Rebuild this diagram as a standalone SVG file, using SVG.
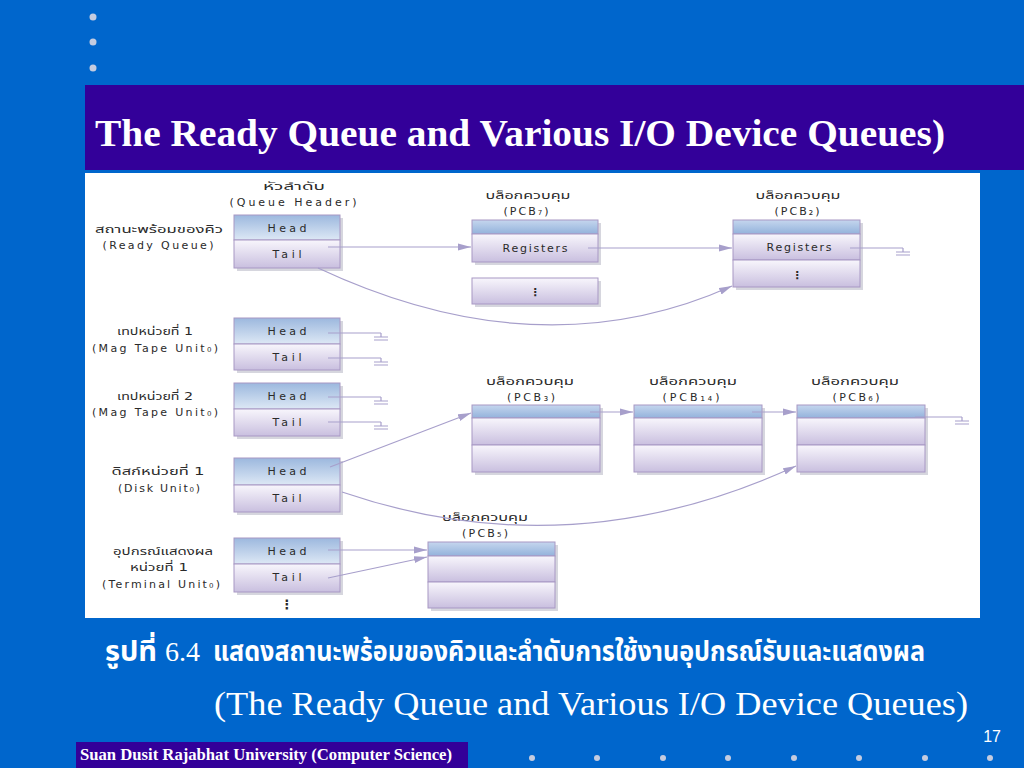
<svg xmlns="http://www.w3.org/2000/svg" width="1024" height="768" viewBox="0 0 1024 768">
<defs>
<linearGradient id="gHead" x1="0" y1="0" x2="0" y2="1"><stop offset="0" stop-color="#9CB8DE"/><stop offset="1" stop-color="#DDE8F5"/></linearGradient>
<linearGradient id="gRow" x1="0" y1="0" x2="0" y2="1"><stop offset="0" stop-color="#F8F6FC"/><stop offset="1" stop-color="#C9BFDF"/></linearGradient>
<linearGradient id="gTop" x1="0" y1="0" x2="0" y2="1"><stop offset="0" stop-color="#C5D6EE"/><stop offset="1" stop-color="#93B2DB"/></linearGradient>
<marker id="arr" markerUnits="userSpaceOnUse" markerWidth="13" markerHeight="8" refX="13" refY="4" orient="auto"><path d="M0,0.5 L13,4 L0,7.5 z" fill="#A79FCB"/></marker>
<path id="gnd" d="M0,0 v4 M-7,4 h14 M-7,7 h14" fill="none" stroke="#A79FCB" stroke-width="1.2"/>
</defs>
<style>
.bg{fill:#0066CC}
.bar{fill:#330099}
.dot{fill:#C4CCE0}
.box{stroke:#A898C4;stroke-width:1}
.sh{fill:#8A8AA0;opacity:0.35}
.t{font-family:"DejaVu Sans","Noto Sans Thai","Noto Sans",sans-serif;font-size:11px;fill:#2a2a2a}
.c{text-anchor:middle}
.cn{fill:none;stroke:#A79FCB;stroke-width:1.2}
.ttl{font-family:"Liberation Serif",serif;font-weight:bold;fill:#fff}
.cap{font-family:"Noto Sans Thai","Noto Sans","DejaVu Sans",sans-serif;font-weight:bold;fill:#fff}
.ser{font-family:"Liberation Serif",serif;fill:#fff}
</style>
<rect class="bg" x="0" y="0" width="1024" height="768"/>
<circle class="dot" cx="93" cy="17" r="3.5"/>
<circle class="dot" cx="93" cy="42" r="3.5"/>
<circle class="dot" cx="93" cy="68" r="3.5"/>
<rect class="bar" x="85" y="85" width="939" height="85"/>
<text class="ttl" x="95" y="146" font-size="38" textLength="850" lengthAdjust="spacingAndGlyphs">The Ready Queue and Various I/O Device Queues)</text>
<rect x="85" y="173" width="895" height="445" fill="#fff"/>

<!-- left labels -->
<g id="labels" class="t c">
<text x="294" y="190" textLength="62" lengthAdjust="spacingAndGlyphs">หัวลำดับ</text>
<text x="293" y="206" textLength="127" lengthAdjust="spacing">(Queue Header)</text>
<text x="159" y="233" textLength="128" lengthAdjust="spacingAndGlyphs">สถานะพร้อมของคิว</text>
<text x="158" y="249" textLength="111" lengthAdjust="spacing">(Ready Queue)</text>
<text x="155" y="335" textLength="76" lengthAdjust="spacingAndGlyphs">เทปหน่วยที่ 1</text>
<text x="155" y="352" textLength="126" lengthAdjust="spacing">(Mag Tape Unit₀)</text>
<text x="155" y="400" textLength="76" lengthAdjust="spacingAndGlyphs">เทปหน่วยที่ 2</text>
<text x="155" y="416" textLength="126" lengthAdjust="spacing">(Mag Tape Unit₀)</text>
<text x="158" y="475" textLength="93" lengthAdjust="spacingAndGlyphs">ดิสก์หน่วยที่ 1</text>
<text x="159" y="492" textLength="82" lengthAdjust="spacing">(Disk Unit₀)</text>
<text x="163" y="555" textLength="100" lengthAdjust="spacingAndGlyphs">อุปกรณ์แสดงผล</text>
<text x="159" y="571" textLength="58" lengthAdjust="spacingAndGlyphs">หน่วยที่ 1</text>
<text x="161" y="588" textLength="118" lengthAdjust="spacing">(Terminal Unit₀)</text>
<text x="287" y="609" font-weight="bold" font-size="13">⋮</text>
</g>

<!-- queue headers -->
<g id="readyQ">
<rect class="sh" x="237" y="218" width="106" height="53"/>
<rect class="box" x="234" y="215" width="106" height="25" fill="url(#gHead)"/>
<rect class="box" x="234" y="240" width="106" height="28" fill="url(#gRow)"/>
<text class="t c" x="287" y="232" textLength="39" lengthAdjust="spacing">Head</text>
<text class="t c" x="287" y="258" textLength="29" lengthAdjust="spacing">Tail</text>
</g>
<g id="mag1">
<rect class="sh" x="237" y="321" width="106" height="52"/>
<rect class="box" x="234" y="318" width="106" height="26" fill="url(#gHead)"/>
<rect class="box" x="234" y="344" width="106" height="26" fill="url(#gRow)"/>
<text class="t c" x="287" y="335" textLength="39" lengthAdjust="spacing">Head</text>
<text class="t c" x="287" y="361" textLength="29" lengthAdjust="spacing">Tail</text>
</g>
<g id="mag2">
<rect class="sh" x="237" y="386" width="106" height="53"/>
<rect class="box" x="234" y="383" width="106" height="26" fill="url(#gHead)"/>
<rect class="box" x="234" y="409" width="106" height="27" fill="url(#gRow)"/>
<text class="t c" x="287" y="400" textLength="39" lengthAdjust="spacing">Head</text>
<text class="t c" x="287" y="426" textLength="29" lengthAdjust="spacing">Tail</text>
</g>
<g id="disk">
<rect class="sh" x="237" y="461" width="106" height="54"/>
<rect class="box" x="234" y="458" width="106" height="27" fill="url(#gHead)"/>
<rect class="box" x="234" y="485" width="106" height="27" fill="url(#gRow)"/>
<text class="t c" x="287" y="475" textLength="39" lengthAdjust="spacing">Head</text>
<text class="t c" x="287" y="502" textLength="29" lengthAdjust="spacing">Tail</text>
</g>
<g id="term">
<rect class="sh" x="237" y="541" width="106" height="54"/>
<rect class="box" x="234" y="538" width="106" height="26" fill="url(#gHead)"/>
<rect class="box" x="234" y="564" width="106" height="28" fill="url(#gRow)"/>
<text class="t c" x="287" y="555" textLength="39" lengthAdjust="spacing">Head</text>
<text class="t c" x="287" y="581" textLength="29" lengthAdjust="spacing">Tail</text>
</g>

<!-- PCBs -->
<g id="pcb7">
<text class="t c" x="528" y="199" textLength="85" lengthAdjust="spacingAndGlyphs">บล็อกควบคุม</text>
<text class="t c" x="526" y="215" textLength="45" lengthAdjust="spacing">(PCB₇)</text>
<rect class="sh" x="475" y="223" width="126" height="42"/>
<rect class="box" x="472" y="220" width="126" height="14" fill="url(#gTop)"/>
<rect class="box" x="472" y="234" width="126" height="28" fill="url(#gRow)"/>
<text class="t c" x="535" y="252" textLength="65" lengthAdjust="spacing">Registers</text>
<rect class="sh" x="475" y="281" width="126" height="26"/>
<rect class="box" x="472" y="278" width="126" height="26" fill="url(#gRow)"/>
<text class="t c" x="535" y="296" font-weight="bold" font-size="13">⋮</text>
</g>
<g id="pcb2">
<text class="t c" x="798" y="199" textLength="85" lengthAdjust="spacingAndGlyphs">บล็อกควบคุม</text>
<text class="t c" x="797" y="215" textLength="45" lengthAdjust="spacing">(PCB₂)</text>
<rect class="sh" x="736" y="223" width="127" height="67"/>
<rect class="box" x="733" y="220" width="127" height="14" fill="url(#gTop)"/>
<rect class="box" x="733" y="234" width="127" height="26" fill="url(#gRow)"/>
<rect class="box" x="733" y="260" width="127" height="27" fill="url(#gRow)"/>
<text class="t c" x="799" y="251" textLength="65" lengthAdjust="spacing">Registers</text>
<text class="t c" x="797" y="279" font-weight="bold" font-size="13">⋮</text>
</g>
<g id="pcb3">
<text class="t c" x="530" y="385" textLength="88" lengthAdjust="spacingAndGlyphs">บล็อกควบคุม</text>
<text class="t c" x="531" y="401" textLength="48" lengthAdjust="spacing">(PCB₃)</text>
<rect class="sh" x="475" y="408" width="128" height="67"/>
<rect class="box" x="472" y="405" width="128" height="13" fill="url(#gTop)"/>
<rect class="box" x="472" y="418" width="128" height="27" fill="url(#gRow)"/>
<rect class="box" x="472" y="445" width="128" height="27" fill="url(#gRow)"/>
</g>
<g id="pcb14">
<text class="t c" x="693" y="385" textLength="88" lengthAdjust="spacingAndGlyphs">บล็อกควบคุม</text>
<text class="t c" x="691" y="401" textLength="57" lengthAdjust="spacing">(PCB₁₄)</text>
<rect class="sh" x="637" y="408" width="128" height="67"/>
<rect class="box" x="634" y="405" width="128" height="13" fill="url(#gTop)"/>
<rect class="box" x="634" y="418" width="128" height="27" fill="url(#gRow)"/>
<rect class="box" x="634" y="445" width="128" height="27" fill="url(#gRow)"/>
</g>
<g id="pcb6">
<text class="t c" x="855" y="385" textLength="88" lengthAdjust="spacingAndGlyphs">บล็อกควบคุม</text>
<text class="t c" x="856" y="401" textLength="47" lengthAdjust="spacing">(PCB₆)</text>
<rect class="sh" x="800" y="408" width="128" height="67"/>
<rect class="box" x="797" y="405" width="128" height="13" fill="url(#gTop)"/>
<rect class="box" x="797" y="418" width="128" height="27" fill="url(#gRow)"/>
<rect class="box" x="797" y="445" width="128" height="27" fill="url(#gRow)"/>
</g>
<g id="pcb5">
<text class="t c" x="485" y="521" textLength="86" lengthAdjust="spacingAndGlyphs">บล็อกควบคุม</text>
<text class="t c" x="485" y="537" textLength="46" lengthAdjust="spacing">(PCB₅)</text>
<rect class="sh" x="431" y="545" width="127" height="66"/>
<rect class="box" x="428" y="542" width="127" height="14" fill="url(#gTop)"/>
<rect class="box" x="428" y="556" width="127" height="26" fill="url(#gRow)"/>
<rect class="box" x="428" y="582" width="127" height="26" fill="url(#gRow)"/>
</g>

<!-- connectors -->
<g id="connectors">
<path class="cn" d="M328,247 H471" marker-end="url(#arr)"/>
<path class="cn" d="M588,248 H732" marker-end="url(#arr)"/>
<path class="cn" d="M318,268 Q540,372 732,286" marker-end="url(#arr)"/>
<path class="cn" d="M850,248 H903"/>
<use href="#gnd" x="903" y="248"/>
<path class="cn" d="M328,333 H381"/>
<use href="#gnd" x="381" y="333"/>
<path class="cn" d="M328,358 H381"/>
<use href="#gnd" x="381" y="358"/>
<path class="cn" d="M328,397 H381"/>
<use href="#gnd" x="381" y="397"/>
<path class="cn" d="M328,422 H381"/>
<use href="#gnd" x="381" y="422"/>
<path class="cn" d="M330,467 L471,413" marker-end="url(#arr)"/>
<path class="cn" d="M590,412 H633" marker-end="url(#arr)"/>
<path class="cn" d="M752,412 H796" marker-end="url(#arr)"/>
<path class="cn" d="M915,417 H962"/>
<use href="#gnd" x="962" y="417"/>
<path class="cn" d="M342,492 Q570,570 796,466" marker-end="url(#arr)"/>
<path class="cn" d="M328,550 H427" marker-end="url(#arr)"/>
<path class="cn" d="M328,578 L427,557" marker-end="url(#arr)"/>
</g>

<!-- captions -->
<text class="cap" x="105" y="661" font-size="28" textLength="52" lengthAdjust="spacingAndGlyphs">รูปที่</text>
<text class="ser" x="165" y="661" font-size="28">6.4</text>
<text class="cap" x="213" y="661" font-size="28" textLength="712" lengthAdjust="spacingAndGlyphs">แสดงสถานะพร้อมของคิวและลำดับการใช้งานอุปกรณ์รับและแสดงผล</text>
<text class="ser" x="214" y="715" font-size="34" textLength="754" lengthAdjust="spacingAndGlyphs">(The Ready Queue and Various I/O Device Queues)</text>

<!-- footer -->
<rect class="bar" x="76" y="742" width="392" height="26"/>
<text class="ser" x="80" y="760" font-size="16" font-weight="bold" textLength="372" lengthAdjust="spacingAndGlyphs">Suan Dusit Rajabhat University (Computer Science)</text>
<text x="1001" y="742" font-family="Liberation Sans, sans-serif" font-size="16" fill="#fff" text-anchor="end">17</text>
<g class="dot">
<circle cx="532" cy="758" r="3"/>
<circle cx="597" cy="758" r="3"/>
<circle cx="663" cy="758" r="3"/>
<circle cx="728" cy="758" r="3"/>
<circle cx="794" cy="758" r="3"/>
<circle cx="859" cy="758" r="3"/>
<circle cx="925" cy="758" r="3"/>
<circle cx="990" cy="758" r="3"/>
</g>
</svg>
